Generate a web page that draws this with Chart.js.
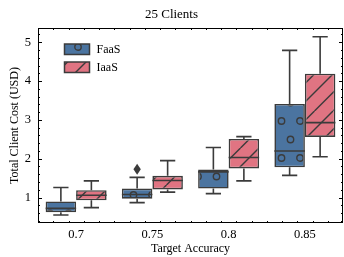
<!DOCTYPE html>
<html>
<head>
<meta charset="utf-8">
<script src="https://cdn.jsdelivr.net/npm/chart.js@4.4.1/dist/chart.umd.min.js"></script>
<style>
  html, body { margin: 0; padding: 0; background: #fff; }
  #wrap { width: 344px; height: 257px; }
</style>
</head>
<body>
<div id="wrap"><canvas id="chart" width="344" height="257"></canvas></div>
<script>
const accuracies = ["0.7", "0.75", "0.8", "0.85"];
const yTickValues = [1, 2, 3, 4, 5];

// FaaS box stats
const faasLow = [0.55, 0.87, 1.10, 1.57];
const faasQ1 = [0.62, 0.97, 1.23, 1.78];
const faasMedian = [0.72, 1.08, 1.66, 2.20];
const faasQ3 = [0.90, 1.23, 1.72, 3.41];
const faasHigh = [1.26, 1.52, 2.29, 4.79];
const faasFliers = [[], [1.73], [], []];

// IaaS box stats
const iaasLow = [0.74, 1.14, 1.43, 2.05];
const iaasQ1 = [0.93, 1.21, 1.75, 2.56];
const iaasMedian = [1.06, 1.44, 2.03, 2.93];
const iaasQ3 = [1.19, 1.56, 2.51, 4.19];
const iaasHigh = [1.43, 1.95, 2.57, 5.14];
const iaasFliers = [[], [], [], []];

const edge = "#3b3b3b";

function makePattern(color, kind) {
  const s = 37;
  const c = document.createElement("canvas");
  c.width = s;
  c.height = s;
  const g = c.getContext("2d");
  g.fillStyle = color;
  g.fillRect(0, 0, s, s);
  g.strokeStyle = edge;
  g.lineWidth = 1.4;
  if (kind === "o") {
    [[4, 10], [22.5, 10], [13, 28.5], [31.5, 28.5]].forEach(([cx, cy]) => {
      g.beginPath();
      g.arc(cx, cy, 3.2, 0, Math.PI * 2);
      g.stroke();
    });
  } else {
    [-s, -s / 2, 0, s / 2, s].forEach((off) => {
      g.beginPath();
      g.moveTo(off, s);
      g.lineTo(off + s, 0);
      g.stroke();
    });
  }
  return g.createPattern(c, "repeat");
}

const faasFill = makePattern("#4b74a0", "o");
const iaasFill = makePattern("#e07482", "/");

Chart.defaults.font.family = '"Liberation Serif", "DejaVu Serif", serif';
Chart.defaults.color = "#000";

// whiskers, medians, fliers
const boxExtras = {
  id: "boxExtras",
  afterDatasetsDraw(chart) {
    const ctx = chart.ctx;
    const y = chart.scales.y;
    ctx.save();
    ctx.strokeStyle = edge;
    ctx.fillStyle = edge;
    ctx.lineWidth = 1.6;
    chart.data.datasets.forEach((ds, di) => {
      chart.getDatasetMeta(di).data.forEach((bar, i) => {
        const { x, width } = bar.getProps(["x", "width"], true);
        const yLow = y.getPixelForValue(ds.low[i]);
        const yQ1 = y.getPixelForValue(ds.data[i][0]);
        const yQ3 = y.getPixelForValue(ds.data[i][1]);
        const yHigh = y.getPixelForValue(ds.high[i]);
        const yMed = y.getPixelForValue(ds.median[i]);
        const cap = width / 4;
        ctx.beginPath();
        ctx.moveTo(x, yQ1); ctx.lineTo(x, yLow);
        ctx.moveTo(x - cap, yLow); ctx.lineTo(x + cap, yLow);
        ctx.moveTo(x, yQ3); ctx.lineTo(x, yHigh);
        ctx.moveTo(x - cap, yHigh); ctx.lineTo(x + cap, yHigh);
        ctx.moveTo(x - width / 2, yMed); ctx.lineTo(x + width / 2, yMed);
        ctx.stroke();
        ds.fliers[i].forEach((v) => {
          const fy = y.getPixelForValue(v);
          ctx.beginPath();
          ctx.moveTo(x, fy - 5.5);
          ctx.lineTo(x + 3.7, fy);
          ctx.lineTo(x, fy + 5.5);
          ctx.lineTo(x - 3.7, fy);
          ctx.closePath();
          ctx.fill();
        });
      });
    });
    ctx.restore();
  }
};

// frame with inward ticks on all sides, plus legend
const frameAndLegend = {
  id: "frameAndLegend",
  afterDraw(chart) {
    const ctx = chart.ctx;
    const { left, right, top, bottom } = chart.chartArea;
    const x = chart.scales.x;
    const y = chart.scales.y;
    ctx.save();
    ctx.strokeStyle = "#000";
    ctx.lineWidth = 1;
    ctx.strokeRect(left + 0.5, top + 0.5, right - left - 1, bottom - top - 1);
    ctx.beginPath();
    // x ticks: major on categories, minor every 0.2 category
    for (let k = -5; k <= 35; k += 2) {
      const v = k / 10;
      if (v <= -0.5 || v >= 3.5) continue;
      const px = Math.round(x.getPixelForValue(v)) + 0.5;
      const len = Math.abs(v - Math.round(v)) < 1e-6 ? 4 : 2;
      ctx.moveTo(px, bottom); ctx.lineTo(px, bottom - len);
      ctx.moveTo(px, top); ctx.lineTo(px, top + len);
    }
    // y ticks: major every 1, minor every 0.2
    for (let k = 1; k <= 27; k++) {
      const v = k / 5;
      if (v <= y.min || v >= y.max) continue;
      const py = Math.round(y.getPixelForValue(v)) + 0.5;
      const len = k % 5 === 0 ? 4 : 2;
      ctx.moveTo(left, py); ctx.lineTo(left + len, py);
      ctx.moveTo(right, py); ctx.lineTo(right - len, py);
    }
    ctx.stroke();

    // legend
    ctx.font = '12px "Liberation Serif", serif';
    ctx.textBaseline = "middle";
    ctx.textAlign = "left";
    chart.data.datasets.forEach((ds, i) => {
      const bx = 64.5, by = 44 + i * 18, bw = 25, bh = 10.5;
      ctx.fillStyle = ds.backgroundColor;
      ctx.fillRect(bx, by, bw, bh);
      ctx.strokeStyle = edge;
      ctx.lineWidth = 1.5;
      ctx.strokeRect(bx, by, bw, bh);
      ctx.fillStyle = "#000";
      ctx.fillText(ds.label, bx + 32, by + bh / 2 + 0.5);
    });
    ctx.restore();
  }
};

new Chart(document.getElementById("chart"), {
  type: "bar",
  data: {
    labels: accuracies,
    datasets: [
      {
        label: "FaaS",
        data: faasQ1.map((q, i) => [q, faasQ3[i]]),
        low: faasLow,
        median: faasMedian,
        high: faasHigh,
        fliers: faasFliers,
        backgroundColor: faasFill,
        borderColor: edge,
        borderWidth: 1.6,
        borderSkipped: false,
        categoryPercentage: 0.8,
        barPercentage: 1.0
      },
      {
        label: "IaaS",
        data: iaasQ1.map((q, i) => [q, iaasQ3[i]]),
        low: iaasLow,
        median: iaasMedian,
        high: iaasHigh,
        fliers: iaasFliers,
        backgroundColor: iaasFill,
        borderColor: edge,
        borderWidth: 1.6,
        borderSkipped: false,
        categoryPercentage: 0.8,
        barPercentage: 1.0
      }
    ]
  },
  options: {
    responsive: false,
    animation: false,
    devicePixelRatio: 1,
    layout: { padding: { left: 0, right: 1, top: 0, bottom: 0 } },
    plugins: {
      legend: { display: false },
      tooltip: { enabled: false },
      title: {
        display: true,
        text: "25 Clients",
        color: "#000",
        font: { size: 13, weight: "normal" },
        padding: { top: 6.5, bottom: 5.9 }
      }
    },
    scales: {
      x: {
        offset: true,
        grid: { display: false, drawTicks: false },
        border: { display: false },
        ticks: { color: "#000", font: { size: 12.5 }, padding: 4 },
        title: {
          display: true,
          text: "Target Accuracy",
          color: "#000",
          font: { size: 12 },
          padding: { top: 0, bottom: 0.5 }
        },
        afterFit: (s) => { s.height = 34; }
      },
      y: {
        min: 0.344,
        max: 5.367,
        afterBuildTicks: (s) => { s.ticks = yTickValues.map((v) => ({ value: v })); },
        grid: { display: false, drawTicks: false },
        border: { display: false },
        ticks: { color: "#000", font: { size: 12.5 }, padding: 7 },
        title: {
          display: true,
          text: "Total Client Cost (USD)",
          color: "#000",
          font: { size: 12 },
          padding: { top: 8, bottom: 0 }
        },
        afterFit: (s) => { s.width = 38; }
      }
    }
  },
  plugins: [boxExtras, frameAndLegend]
});
</script>
</body>
</html>
